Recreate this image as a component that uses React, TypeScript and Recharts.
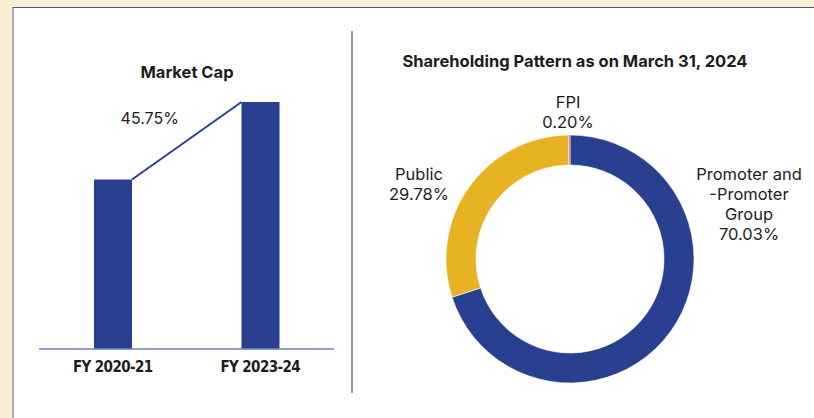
import { Bar, BarChart, Cell, Pie, PieChart, XAxis, YAxis } from 'recharts'

const YEARS = ['FY 2020-21', 'FY 2023-24']
const MARKET_CAP = [100, 145.75]

const HOLDER_LINES = [['Promoter and', '-Promoter', 'Group'], ['Public'], ['FPI']]
const HOLDING_PCT = [70.03, 29.78, 0.2]

const BLUE = '#293f90'
const YELLOW = '#e8b323'
const FPI_COLOR = '#c55a2b'
const PIE_COLORS = [BLUE, YELLOW, FPI_COLOR]
const TEXT = '#1d1d1d'
const FONT = 'Inter, "Noto Sans", sans-serif'

// label anchors, relative to the donut centre
const LABEL_POS = [
  { dx: 179, dy: -85 },
  { dx: -151, dy: -85 },
  { dx: -2, dy: -157 },
]
const LINE_GAP = 20

const barData = YEARS.map((year, i) => ({ year, value: MARKET_CAP[i] }))
const pieData = HOLDER_LINES.map((lines, i) => ({ name: lines.join(' '), lines, value: HOLDING_PCT[i] }))

const growth = `${((MARKET_CAP[1] / MARKET_CAP[0] - 1) * 100).toFixed(2)}%`

function makeBarShape() {
  const tops: { x: number; y: number; w: number }[] = []
  return (props: any) => {
    const { x, y, width, height, index } = props
    tops[index] = { x, y, w: width }
    const prev = tops[index - 1]
    return (
      <g>
        <rect x={x} y={y} width={width} height={height} fill={BLUE} />
        {prev && (
          <>
            <line x1={prev.x + prev.w} y1={prev.y} x2={x} y2={y} stroke={BLUE} strokeWidth={2} />
            <text
              x={(prev.x + prev.w + x) / 2 - 37}
              y={(prev.y + y) / 2 - 23}
              textAnchor="middle"
              dominantBaseline="central"
              fill={TEXT}
              fontSize={16}
              fontFamily={FONT}
            >
              {growth}
            </text>
          </>
        )}
      </g>
    )
  }
}

function pieLabel(props: any) {
  const { cx, cy, index } = props
  const pos = LABEL_POS[index]
  const entry = pieData[index]
  const lines = [...entry.lines, `${entry.value.toFixed(2)}%`]
  return (
    <text
      x={cx + pos.dx}
      y={cy + pos.dy}
      textAnchor="middle"
      fill={TEXT}
      fontSize={16.5}
      fontFamily={FONT}
    >
      {lines.map((l, i) => (
        <tspan key={i} x={cx + pos.dx} y={cy + pos.dy + i * LINE_GAP} dominantBaseline="central">
          {l}
        </tspan>
      ))}
    </text>
  )
}

const titleStyle: React.CSSProperties = {
  position: 'absolute',
  fontFamily: FONT,
  fontWeight: 700,
  fontSize: 16.5,
  color: TEXT,
  textAlign: 'center',
  whiteSpace: 'nowrap',
  lineHeight: '20px',
}

export default function App() {
  const barShape = makeBarShape()
  return (
    <div style={{ position: 'absolute', left: 0, top: 0, width: 814, height: 418, background: '#f9efd3', overflow: 'hidden' }}>
      <div
        style={{
          position: 'absolute',
          left: 12,
          top: 7,
          right: 0,
          bottom: 0,
          background: '#fff',
          borderTop: '1.5px solid #42539f',
          borderLeft: '2px solid #a2a7c6',
        }}
      />
      <div style={{ position: 'absolute', left: 351, top: 31, width: 2, height: 362, background: '#8c9ad0' }} />

      <div style={{ ...titleStyle, left: 37, width: 300, top: 62 }}>Market Cap</div>
      <div style={{ ...titleStyle, left: 375, width: 400, top: 51 }}>Shareholding Pattern as on March 31, 2024</div>

      <div style={{ position: 'absolute', left: 0, top: 0 }}>
        <BarChart width={352} height={418} data={barData} margin={{ top: 102, right: 18, left: 39, bottom: 39 }}>
          <XAxis
            dataKey="year"
            height={30}
            axisLine={{ stroke: '#6f7fbf', strokeWidth: 1.5 }}
            tickLine={false}
            tickMargin={6}
            tick={{
              fill: TEXT,
              fontSize: 15,
              fontWeight: 700,
              letterSpacing: -0.6,
              fontFamily: '"Liberation Sans Narrow", "DejaVu Sans Condensed", sans-serif',
            }}
          />
          <YAxis hide domain={[0, 'dataMax']} />
          <Bar dataKey="value" barSize={38} shape={barShape} isAnimationActive={false} />
        </BarChart>
      </div>

      <div style={{ position: 'absolute', left: 352, top: 0 }}>
        <PieChart width={462} height={418}>
          <Pie
            data={pieData}
            dataKey="value"
            nameKey="name"
            cx={213}
            cy={254}
            innerRadius={94}
            outerRadius={124}
            startAngle={90}
            endAngle={-270}
            stroke="#fff"
            strokeWidth={0.6}
            label={pieLabel}
            labelLine={false}
            isAnimationActive={false}
          >
            {pieData.map((_, i) => (
              <Cell key={i} fill={PIE_COLORS[i]} />
            ))}
          </Pie>
        </PieChart>
      </div>
    </div>
  )
}
